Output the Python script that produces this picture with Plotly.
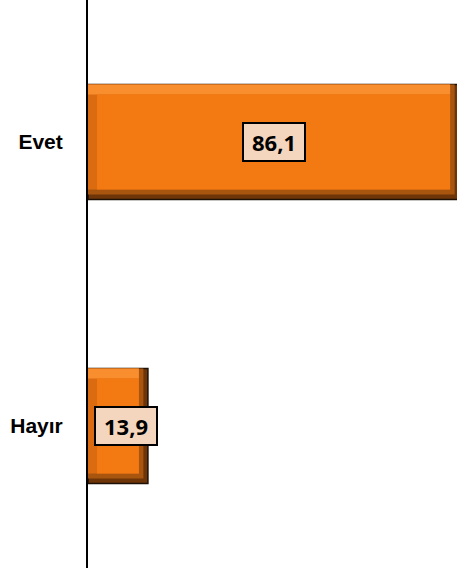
import plotly.graph_objects as go

categories = ["Evet", "Hayır"]
values = [86.1, 13.9]
value_labels = ["86,1", "13,9"]

BAR_W = 0.405      # bar thickness in category units
EDGE_Y = 0.035     # bevel thickness (category units)
EDGE_X = 2.1       # bevel thickness (value units)

fig = go.Figure()


def layer(xs, base, width, offset, color, line=None):
    fig.add_trace(go.Bar(
        y=categories, x=xs, base=base, orientation="h",
        width=width, offset=offset,
        marker=dict(color=color, line=line or dict(width=0)),
        hoverinfo="skip",
    ))


# outer dark shade (bottom / right) with outline
layer(values, 0, BAR_W, -BAR_W / 2, "#6E3508", dict(color="#1E1005", width=1.5))
# mid shade of bottom / right bevel
layer([v - EDGE_X / 2 for v in values], 0, BAR_W - EDGE_Y / 2, -BAR_W / 2, "#A8560F")
# left bevel
layer([v - EDGE_X for v in values], 0, BAR_W - EDGE_Y, -BAR_W / 2, "#DB6B10")
# top bevel highlight
layer([v - EDGE_X for v in values], 0, EDGE_Y, -BAR_W / 2, "#F98E2E")
# main face
layer([v - 2 * EDGE_X for v in values], EDGE_X, BAR_W - 2 * EDGE_Y, -BAR_W / 2 + EDGE_Y, "#F37A12")

for cat, v, lab, xs in zip(categories, values, value_labels, [0, 8]):
    fig.add_annotation(
        x=v / 2, y=cat, text="<b>" + lab + "</b>", showarrow=False,
        xshift=xs,
        font=dict(family="Open Sans", size=22, color="#000000"),
        bgcolor="#F3D6BD", bordercolor="#000000", borderwidth=2, borderpad=3,
        width=54,
    )

fig.update_layout(
    width=457, height=570,
    margin=dict(l=88, r=0, t=0, b=2),
    paper_bgcolor="white", plot_bgcolor="white",
    showlegend=False,
    barmode="overlay",
)
fig.update_xaxes(range=[0, 85.6], visible=False, showgrid=False, zeroline=False)
fig.update_yaxes(
    autorange="reversed", showline=True, linecolor="#000000", linewidth=2,
    showgrid=False, zeroline=False, ticks="",
    ticklabelstandoff=19,
    tickfont=dict(family="Liberation Sans", size=21, color="#000000", weight="bold"),
)

fig.write_html(
    "out.html",
    config={"displayModeBar": False},
    post_script="document.body.style.margin='0';document.body.style.overflow='hidden';",
)
